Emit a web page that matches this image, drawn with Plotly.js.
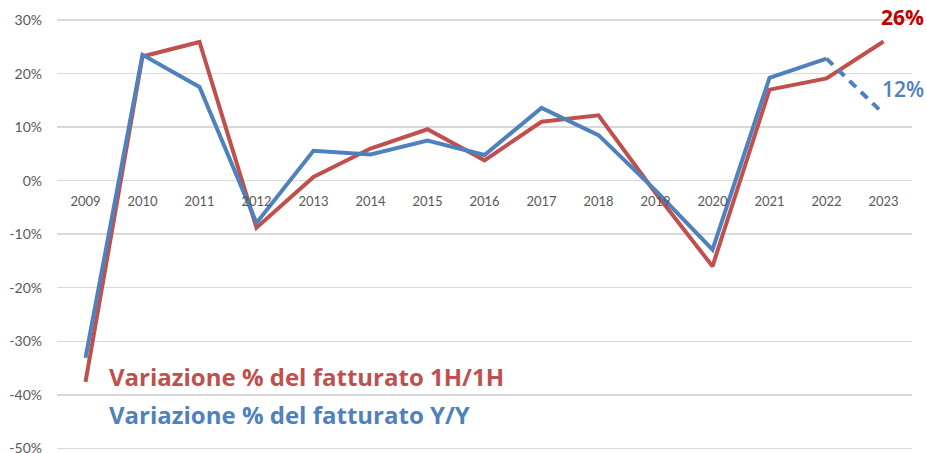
<!DOCTYPE html>
<html>
<head>
<meta charset="utf-8">
<script src="https://cdn.plot.ly/plotly-3.0.1.min.js"></script>
<style>html,body{margin:0;padding:0;background:#fff;}#chart{width:927px;height:453px;}</style>
</head>
<body>
<div id="chart"></div>
<script>
const years = ['2009','2010','2011','2012','2013','2014','2015','2016','2017','2018','2019','2020','2021','2022','2023'];
const var1H = [-37.6, 23.2, 25.9, -8.8, 0.7, 6.0, 9.6, 3.8, 11.0, 12.2, -2.3, -16.0, 17.0, 19.1, 26.0];
const varYY = [-33.1, 23.5, 17.5, -7.9, 5.6, 4.9, 7.5, 4.8, 13.6, 8.5, -1.8, -12.9, 19.2, 22.8, 12.5];
const yTickVals = [-50, -40, -30, -20, -10, 0, 10, 20, 30];
const yTickText = ['-50%', '-40%', '-30%', '-20%', '-10%', '0%', '10%', '20%', '30%'];
const label1H = 'Variazione % del fatturato 1H/1H';
const labelYY = 'Variazione % del fatturato Y/Y';
const endLabel1H = '26%';
const endLabelYY = '12%';

const red = '#C0504D', blue = '#4F81BD';
const n = years.length;

const traces = [
  {x: years, y: var1H, type: 'scatter', mode: 'lines', line: {color: red, width: 4}, hoverinfo: 'skip'},
  {x: years.slice(0, n - 1), y: varYY.slice(0, n - 1), type: 'scatter', mode: 'lines', line: {color: blue, width: 4}, hoverinfo: 'skip'},
  {x: years.slice(n - 2), y: varYY.slice(n - 2), type: 'scatter', mode: 'lines', line: {color: blue, width: 4, dash: '9px,7px'}, hoverinfo: 'skip'}
];

const yMin = -50.5, yMax = 30.2;
const layout = {
  width: 927, height: 453,
  margin: {l: 57, r: 15, t: 19, b: 2},
  showlegend: false,
  paper_bgcolor: '#fff', plot_bgcolor: '#fff',
  font: {family: 'Lato, "Open Sans", sans-serif', color: '#595959'},
  xaxis: {
    type: 'category', anchor: 'free', position: (0 - yMin) / (yMax - yMin),
    showgrid: false, showline: false, zeroline: false, ticks: '',
    tickfont: {size: 13, color: '#595959'}, ticklabelstandoff: 11,
    range: [-0.5, n - 0.5]
  },
  yaxis: {
    range: [yMin, yMax], tickvals: yTickVals, ticktext: yTickText,
    showgrid: true, gridcolor: '#D9D9D9', gridwidth: 1.5, zeroline: false,
    showline: false, ticks: '', tickfont: {size: 14, color: '#595959'}, ticklabelstandoff: 14,
    ticklabeloverflow: 'allow'
  },
  annotations: [
    {xref: 'paper', yref: 'paper', x: 0.058, y: 0.172, xanchor: 'left', yanchor: 'middle', showarrow: false,
     text: '<b>' + label1H + '</b>', font: {family: '"Open Sans", sans-serif', size: 24, color: red}},
    {xref: 'paper', yref: 'paper', x: 0.058, y: 0.085, xanchor: 'left', yanchor: 'middle', showarrow: false,
     text: '<b>' + labelYY + '</b>', font: {family: '"Open Sans", sans-serif', size: 24, color: blue}},
    {xref: 'x', yref: 'y', x: n - 1, y: var1H[n - 1], xanchor: 'center', yanchor: 'middle', xshift: 19, yshift: 24, showarrow: false,
     text: '<b>' + endLabel1H + '</b>', font: {family: '"Open Sans", sans-serif', size: 21, color: '#C00000'}},
    {xref: 'x', yref: 'y', x: n - 1, y: varYY[n - 1], xanchor: 'center', yanchor: 'middle', xshift: 19, yshift: 25, showarrow: false,
     text: endLabelYY, font: {family: '"Open Sans", sans-serif', size: 21, weight: 600, color: blue}}
  ]
};

Plotly.newPlot('chart', traces, layout, {staticPlot: true, displayModeBar: false});
</script>
</body>
</html>
